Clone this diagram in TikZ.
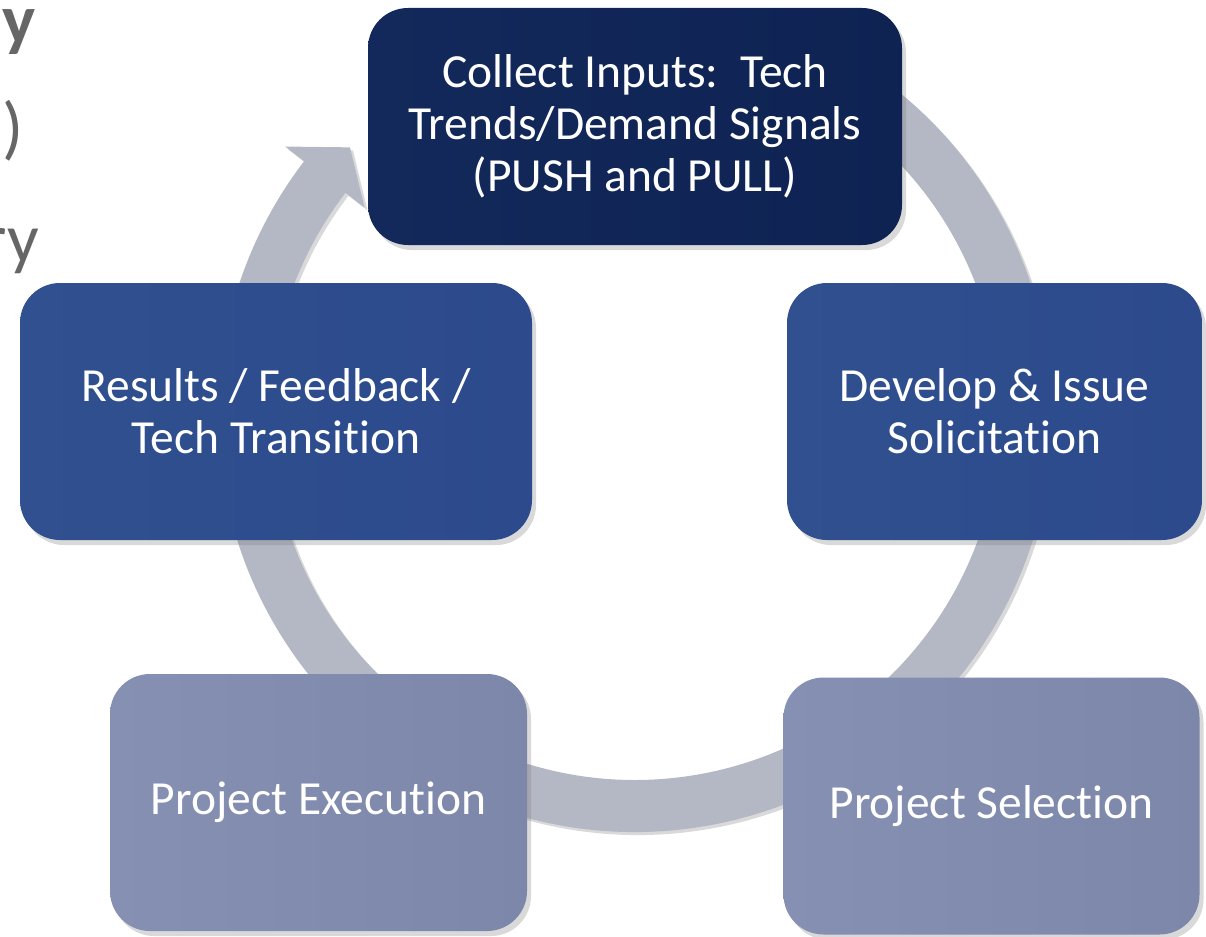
\documentclass[tikz,border=0pt]{standalone}
\usepackage{fontspec}
\setmainfont{Carlito}[Ligatures=NoCommon]
\usetikzlibrary{shapes,backgrounds,positioning,shadows}
\usepackage{xcolor}

\definecolor{navy}{HTML}{0E2352}
\definecolor{navylight}{HTML}{13295B}
\definecolor{midblue}{HTML}{30508F}
\definecolor{midbluedark}{HTML}{2C4A8C}
\definecolor{paleblue}{HTML}{8690B2}
\definecolor{palebluedark}{HTML}{7C87AA}
\definecolor{ringgray}{HTML}{B4B7C4}
\definecolor{slidegray}{HTML}{666666}

% keep t and i apart (no ligature)
\newcommand{\tx}{t\kern0pt i}

\tikzset{
  stage/.style={rounded corners=40pt, align=center, text=white, inner sep=0pt,
    font=\fontsize{47.5}{52}\selectfont,
    drop shadow={shadow xshift=4pt, shadow yshift=-5pt, opacity=0.3}},
  slidetext/.style={text=slidegray, anchor=base east, inner sep=0pt,
    font=\fontsize{70}{70}\selectfont},
}

\begin{document}
\begin{tikzpicture}[x=1pt, y=-1pt]
                \useasboundingbox (0,0) rectangle (1206,936);

                % cut-off slide text on the left
                \node[slidetext, font=\fontsize{70}{70}\selectfont\bfseries] (heady) at (36,44) {y};
                \node[slidetext] (paren) at (24,152) {)};
                \node[slidetext] (ry) at (39,262) {ry};

                % cycle arrow
                \begin{scope}[shift={(635,415)}]
                    \fill[ringgray, drop shadow={shadow xshift=3pt, shadow yshift=-3pt, opacity=0.3}]
                        (-60:417) arc[start angle=-60, end angle=217.5, radius=417]
                        -- (217.5:441) -- (223.2:391) -- (217.5:341) -- (217.5:365)
                        arc[start angle=217.5, end angle=-60, radius=365] -- cycle;
                \end{scope}

                \node[stage, left color=navylight, right color=navy, minimum width=534pt, minimum height=237pt]
                    (inputs) at (635,126.5) {Collect Inputs:\ \ Tech\\Trends/Demand Signals\\(PUSH and PULL)};
                \node[stage, left color=midblue, right color=midbluedark, minimum width=415pt, minimum height=257pt]
                    (solicit) at (994.5,411.5) {Develop \& Issue\\Solicita\tx on};
                \node[stage, left color=midblue, right color=midbluedark, minimum width=512pt, minimum height=257pt]
                    (results) at (276,411.5) {Results / Feedback /\\Tech Transi\tx on};
                \node[stage, left color=paleblue, right color=palebluedark, minimum width=417pt, minimum height=257pt]
                    (execution) at (318.5,802.5) {Project Execu\tx on};
                \node[stage, left color=paleblue, right color=palebluedark, minimum width=416pt, minimum height=257pt]
                    (selection) at (991.5,806) {Project Selec\tx on};
            \end{tikzpicture}
\end{document}
